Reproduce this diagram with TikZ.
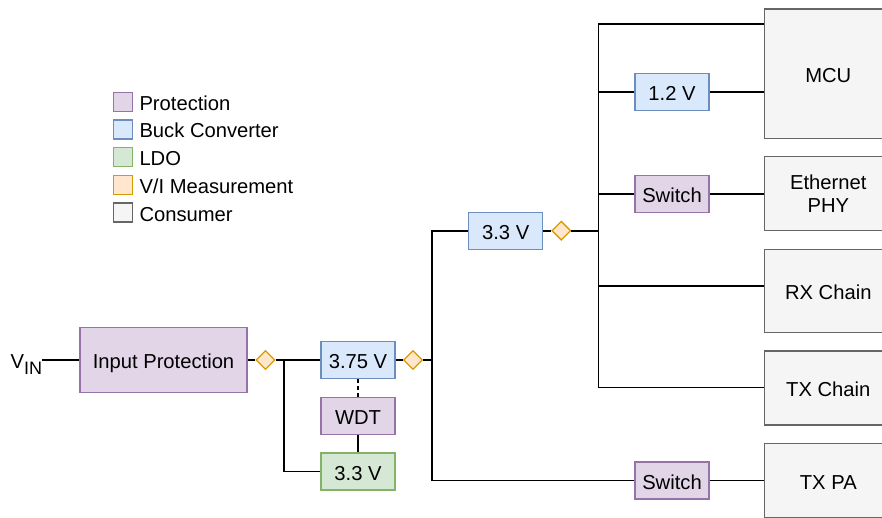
\documentclass[tikz,border=0pt]{standalone}
\usepackage{fontspec}
\setmainfont{Liberation Sans}
\usetikzlibrary{shapes.geometric}
\definecolor{protF}{HTML}{E1D5E7}\definecolor{protD}{HTML}{9673A6}
\definecolor{buckF}{HTML}{DAE8FC}\definecolor{buckD}{HTML}{6C8EBF}
\definecolor{ldoF}{HTML}{D5E8D4}\definecolor{ldoD}{HTML}{82B366}
\definecolor{measF}{HTML}{FFE6CC}\definecolor{measD}{HTML}{D79B00}
\definecolor{consF}{HTML}{F5F5F5}\definecolor{consD}{HTML}{666666}
\begin{document}
\begin{tikzpicture}[x=1pt,y=-1pt,
  font=\fontsize{20.2}{23.5}\selectfont,
  box/.style={draw, line width=1.3pt, inner sep=0pt, minimum height=37pt, minimum width=74pt, align=center},
  onel/.style={text height=17pt, text depth=0pt},
  prot/.style={box, fill=protF, draw=protD},
  buck/.style={box, fill=buckF, draw=buckD},
  ldo/.style={box, fill=ldoF, draw=ldoD},
  cons/.style={box, fill=consF, draw=consD, minimum width=128pt},
  meas/.style={diamond, draw=measD, fill=measF, line width=1.3pt, minimum width=19pt, minimum height=19pt, inner sep=0pt},
  legsq/.style={draw, line width=1.3pt, minimum width=19pt, minimum height=19pt, inner sep=0pt},
  legtx/.style={anchor=west, inner sep=0pt, onel},
  wire/.style={line width=1.6pt, black}]
\useasboundingbox (0,0) rectangle (882,517);
\clip (0,0) rectangle (882,517);

% legend
\node[legsq, fill=protF, draw=protD] (l1) at (122.7,101.7) {};
\node[legtx] (t1) at (139.3,101.7) {Protection};
\node[legsq, fill=buckF, draw=buckD] (l2) at (122.7,129.4) {};
\node[legtx] (t2) at (139.3,129.4) {Buck Converter};
\node[legsq, fill=ldoF, draw=ldoD] (l3) at (122.7,157.1) {};
\node[legtx] (t3) at (139.3,157.1) {LDO};
\node[legsq, fill=measF, draw=measD] (l4) at (122.7,184.8) {};
\node[legtx] (t4) at (139.3,184.8) {V/I Measurement};
\node[legsq, fill=consF, draw=consD] (l5) at (122.7,212.5) {};
\node[legtx] (t5) at (139.3,212.5) {Consumer};

% left part
\node[anchor=west, inner sep=0pt, onel] (vin) at (10.5,360) {V\raisebox{-6pt}{\fontsize{18}{20}\selectfont IN}};
\node[prot, onel, minimum width=167pt, minimum height=65pt] (inprot) at (163.5,360) {Input Protection};
\node[meas] (m1) at (265.5,360) {};
\node[buck, onel] (b375) at (358,360) {3.75 V};
\node[prot, onel] (wdt) at (358,416) {WDT};
\node[ldo, onel] (ldo33) at (358,471.5) {3.3 V};
\node[meas] (m2) at (413,360) {};
\coordinate (j1) at (283.7,360);
\coordinate (j2) at (431.7,360);

% middle
\node[buck, onel] (b33) at (505.7,230.7) {3.3 V};
\node[meas] (m3) at (561.3,230.7) {};
\coordinate (bus) at (598.3,230.7);
\coordinate (btop) at (598.3,23.7);
\coordinate (bbot) at (598.3,387.3);
\coordinate (rxb) at (598.3,286);
\node[buck, onel] (v12) at (672,92.2) {1.2 V};
\node[prot, onel] (sw1) at (672,193.7) {Switch};
\node[prot, onel] (sw2) at (672,480.5) {Switch};

% consumers
\node[cons, onel, minimum height=129.3pt] (mcu) at (828.3,73.7) {MCU};
\node[cons, minimum height=74pt] (eth) at (828.3,193.7) {Ethernet\\PHY};
\node[cons, onel, minimum height=83pt] (rx) at (828.3,290.8) {RX Chain};
\node[cons, onel, minimum height=74pt] (tx) at (828.3,388) {TX Chain};
\node[cons, onel, minimum height=74pt] (txpa) at (828.3,480.5) {TX PA};

% wires
\draw[wire] (vin.east |- inprot) -- (inprot.west);
\draw[wire] (inprot) -- (m1);
\draw[wire] (m1) -- (b375);
\draw[wire] (j1) |- (ldo33.west);
\draw[wire, dashed, dash pattern=on 4pt off 3pt] (b375) -- (wdt);
\draw[wire] (wdt) -- (ldo33);
\draw[wire] (b375) -- (m2);
\draw[wire] (m2) -- (j2);
\draw[wire] (b33.west) -| (j2) |- (sw2.west);
\draw[wire] (b33) -- (m3);
\draw[wire] (m3) -- (bus);
\draw[wire] (btop -| mcu.west) -- (btop) -- (bbot) -- (bbot -| tx.west);
\draw[wire] (v12 -| bus) -- (v12);
\draw[wire] (v12) -- (v12 -| mcu.west);
\draw[wire] (sw1 -| bus) -- (sw1);
\draw[wire] (sw1) -- (eth);
\draw[wire] (rxb) -- (rxb -| rx.west);
\draw[wire] (sw2) -- (txpa);
\end{tikzpicture}
\end{document}
